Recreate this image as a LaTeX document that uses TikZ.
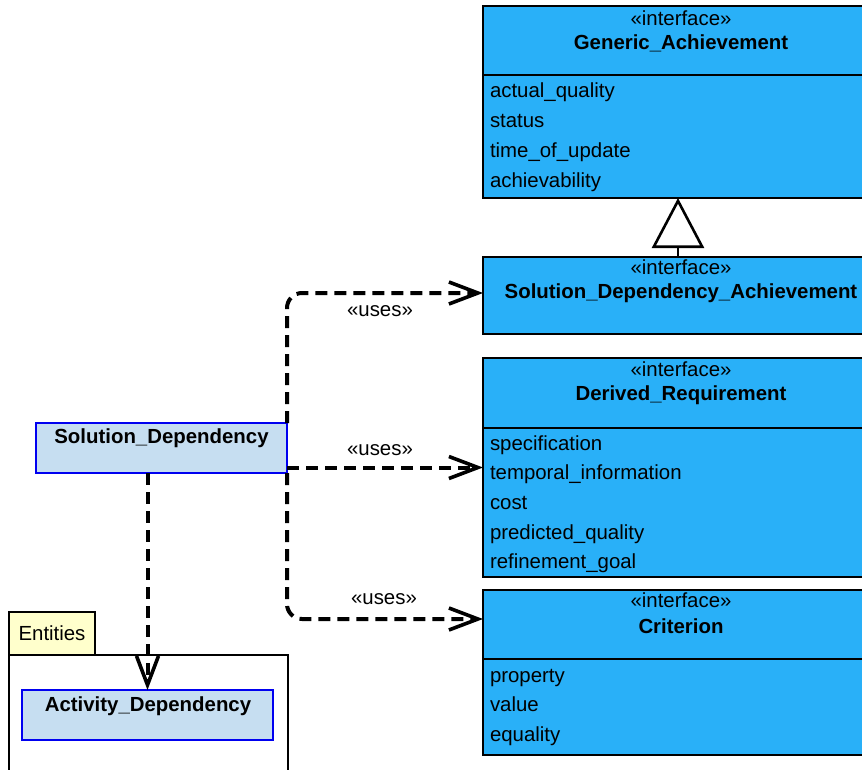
\documentclass[tikz,border=0pt]{standalone}
\usepackage{fontspec}
\setmainfont{Liberation Sans}
\usetikzlibrary{arrows.meta,calc}

\definecolor{ifacefill}{RGB}{41,176,248}
\definecolor{classfill}{RGB}{198,222,241}
\definecolor{classedge}{RGB}{0,0,240}
\definecolor{tabfill}{RGB}{255,255,204}

\tikzset{
  every node/.style={inner sep=0pt, outer sep=0pt, font=\fontsize{20.4}{24}\selectfont},
  iface/.style={draw=black, line width=1.4pt, fill=ifacefill, anchor=north west, minimum width=397pt},
  cls/.style={draw=classedge, line width=1.4pt, fill=classfill, anchor=north west, minimum width=251pt, minimum height=50pt},
  sep/.style={draw=black, line width=1.4pt},
  stereo/.style={anchor=base},
  cname/.style={anchor=base, font=\fontsize{20.4}{24}\selectfont\bfseries},
  attr/.style={anchor=base west},
  uses/.style={draw=black, line width=4pt, dash pattern=on 12pt off 7pt,
    -{Straight Barb[length=29pt, width=22pt, line width=3.6pt]}},
  gen/.style={draw=black, line width=2.6pt,
    -{Triangle[open, fill=white, length=50pt, width=52pt, line width=2.6pt]}},
  lbl/.style={anchor=base},
}

\begin{document}
\begin{tikzpicture}[x=1pt, y=-1pt]
\useasboundingbox (0,0) rectangle (862,769);
\clip (0,0) rectangle (862,769);

% Generic_Achievement
\node[iface, minimum height=192pt] (ga) at (483,6) {};
\draw[sep] (483,75) -- (880,75);
\node[stereo] (gast) at (681,25) {«interface»};
\node[cname] (ganame) at (681,49) {Generic\_Achievement};
\node[attr] (ga1) at (490,97) {actual\_quality};
\node[attr] (ga2) at (490,127) {status};
\node[attr] (ga3) at (490,157) {time\_of\_update};
\node[attr] (ga4) at (490,187) {achievability};
\coordinate (gaout) at (678,198);

% Solution_Dependency_Achievement
\node[iface, minimum height=77pt] (sda) at (483,257) {};
\node[stereo] (sdast) at (681,274) {«interface»};
\node[cname] (sdaname) at (681,298) {Solution\_Dependency\_Achievement};
\coordinate (sdaup) at (678,257);
\coordinate (sdain) at (483,293);

% Derived_Requirement
\node[iface, minimum height=219pt] (dr) at (483,358) {};
\draw[sep] (483,428) -- (880,428);
\node[stereo] (drst) at (681,376) {«interface»};
\node[cname] (drname) at (681,400) {Derived\_Requirement};
\node[attr] (dr1) at (490,450) {specification};
\node[attr] (dr2) at (490,479) {temporal\_information};
\node[attr] (dr3) at (490,509) {cost};
\node[attr] (dr4) at (490,539) {predicted\_quality};
\node[attr] (dr5) at (490,568) {refinement\_goal};

% Criterion
\node[iface, minimum height=165pt] (crit) at (483,590) {};
\draw[sep] (483,659) -- (880,659);
\node[stereo] (critst) at (681,607) {«interface»};
\node[cname] (critname) at (681,633) {Criterion};
\node[attr] (crit1) at (490,682) {property};
\node[attr] (crit2) at (490,711) {value};
\node[attr] (crit3) at (490,741) {equality};
\coordinate (critin) at (483,619);

% Entities package
\node[draw=black, line width=1.4pt, fill=white, anchor=north west,
      minimum width=279pt, minimum height=130pt] (pkg) at (9,655) {};
\node[draw=black, line width=1.4pt, fill=tabfill, anchor=north west,
      minimum width=86pt, minimum height=43pt] (pkgtab) at (9,612) {};
\node[anchor=base] (pkgname) at (52,640) {Entities};

% Classes
\node[cls] (sd) at (36,423) {};
\node[cname] (sdname) at (161.5,443) {Solution\_Dependency};
\node[cls] (ad) at (22,690) {};
\node[cname] (adname) at (148,711) {Activity\_Dependency};

% Generalization
\draw[gen] (sdaup) -- (gaout);

% Dependencies
\draw[uses, rounded corners=15pt] (sd.north east) |- (sdain);
\draw[uses] (sd.south east |- dr.west) -- (dr.west);
\draw[uses, rounded corners=15pt] (sd.south east) |- (critin);
\draw[uses] (sd.south -| ad.north) -- (ad.north);

\node[lbl] (u1) at (380,316) {«uses»};
\node[lbl] (u2) at (380,455) {«uses»};
\node[lbl] (u3) at (384,604) {«uses»};
\end{tikzpicture}
\end{document}
